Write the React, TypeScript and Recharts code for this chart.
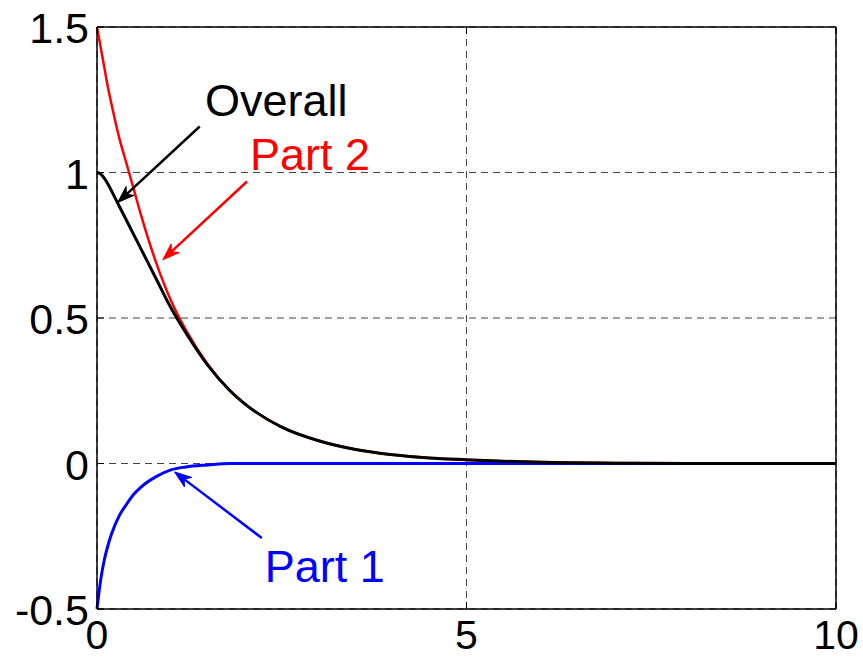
import {
  LineChart,
  Line,
  XAxis,
  YAxis,
  CartesianGrid,
  ReferenceLine,
  ReferenceDot,
} from "recharts";

// values
const xValues = [0, 0.05, 0.1, 0.15, 0.2, 0.3, 0.4, 0.5, 0.6, 0.8, 1.0, 1.2, 1.5, 1.8, 2.0, 2.5, 3.0, 3.5, 4.0, 4.5, 5.0, 5.5, 6.0, 7.0, 8.0, 9.0, 10.0];
const part1 = [-0.5, -0.4, -0.33, -0.28, -0.24, -0.18, -0.14, -0.105, -0.08, -0.045, -0.022, -0.012, -0.005, 0, 0, 0, 0, 0, 0, 0, 0, 0, 0, 0, 0, 0, 0];
const part2 = [1.5, 1.43, 1.36, 1.29, 1.23, 1.12, 1.03, 0.94, 0.85, 0.69, 0.56, 0.46, 0.34, 0.25, 0.205, 0.125, 0.078, 0.048, 0.03, 0.019, 0.012, 0.008, 0.005, 0.002, 0.001, 0, 0];
const overall = [1.0, 0.995, 0.98, 0.96, 0.935, 0.885, 0.835, 0.785, 0.735, 0.635, 0.535, 0.45, 0.337, 0.25, 0.205, 0.125, 0.078, 0.048, 0.03, 0.019, 0.013, 0.008, 0.004, 0.001, 0, 0, 0];

const xTicks = [0, 5, 10];
const yTicks = [-0.5, 0, 0.5, 1, 1.5];

const data = xValues.map((x, i) => ({
  x,
  part1: part1[i],
  part2: part2[i],
  overall: overall[i],
}));

// annotation arrows (data units): tail -> head
const arrows = [
  { from: { x: 1.39, y: 1.158 }, to: { x: 0.28, y: 0.897 }, color: "#000000" },
  { from: { x: 2.03, y: 0.969 }, to: { x: 0.89, y: 0.7 }, color: "#ff0000" },
  { from: { x: 2.23, y: -0.256 }, to: { x: 1.05, y: -0.029 }, color: "#0000ff" },
];

const labels = [
  { text: "Overall", x: 1.46, y: 1.193, color: "#000000" },
  { text: "Part 2", x: 2.07, y: 1.01, color: "#ff0000" },
  { text: "Part 1", x: 2.27, y: -0.408, color: "#0000ff" },
];

const FONT = "'Liberation Sans', Arial, Helvetica, sans-serif";

const Arrow = (color: string) => (props: any) => {
  const { x1, y1, x2, y2 } = props;
  const ang = Math.atan2(y2 - y1, x2 - x1);
  const len = 17;
  const half = 6;
  const bx = x2 - len * Math.cos(ang);
  const by = y2 - len * Math.sin(ang);
  const nx = -Math.sin(ang);
  const ny = Math.cos(ang);
  const notchX = x2 - len * 0.7 * Math.cos(ang);
  const notchY = y2 - len * 0.7 * Math.sin(ang);
  return (
    <g>
      <line x1={x1} y1={y1} x2={notchX} y2={notchY} stroke={color} strokeWidth={2.5} />
      <path
        d={`M${x2},${y2} L${bx + nx * half},${by + ny * half} L${notchX},${notchY} L${bx - nx * half},${by - ny * half} Z`}
        fill={color}
        stroke={color}
        strokeWidth={1}
      />
    </g>
  );
};

// ticks point inward, like the matlab box
const BottomTick = (props: any) => {
  const { x, y, payload } = props;
  return (
    <g>
      <line x1={x} x2={x} y1={y} y2={y - 7} stroke="#000" strokeWidth={1} />
      <text x={x} y={y + 40} textAnchor="middle" fontSize={41} fontFamily={FONT} fill="#000">
        {payload.value}
      </text>
    </g>
  );
};

const LeftTick = (props: any) => {
  const { x, y, payload } = props;
  return (
    <g>
      <line x1={x} x2={x + 7} y1={y} y2={y} stroke="#000" strokeWidth={1} />
      <text x={x - 8} y={y + 16} textAnchor="end" fontSize={43} fontFamily={FONT} fill="#000">
        {payload.value}
      </text>
    </g>
  );
};

const TopTick = (props: any) => {
  const { x, y } = props;
  return <line x1={x} x2={x} y1={y} y2={y + 7} stroke="#000" strokeWidth={1} />;
};

const RightTick = (props: any) => {
  const { x, y } = props;
  return <line x1={x} x2={x - 7} y1={y} y2={y} stroke="#000" strokeWidth={1} />;
};

export default function App() {
  return (
    <div style={{ position: "absolute", left: 0, top: 0, background: "#fff" }}>
      <LineChart
        width={863}
        height={658}
        data={data}
        margin={{ top: 17, right: 17, bottom: 9, left: 37 }}
      >
        <CartesianGrid stroke="#444" strokeDasharray="7 5" strokeWidth={1} />
        <XAxis
          dataKey="x"
          type="number"
          domain={[0, 10]}
          ticks={xTicks}
          height={40}
          tickLine={false}
          tickSize={0}
          tickMargin={0}
          tick={<BottomTick />}
          axisLine={{ stroke: "#000", strokeWidth: 1.5 }}
          interval={0}
        />
        <XAxis
          xAxisId="top"
          orientation="top"
          dataKey="x"
          type="number"
          domain={[0, 10]}
          ticks={xTicks}
          height={10}
          tickLine={false}
          tickSize={0}
          tickMargin={0}
          tick={<TopTick />}
          axisLine={{ stroke: "#000", strokeWidth: 1.5 }}
          interval={0}
        />
        <YAxis
          type="number"
          domain={[-0.5, 1.5]}
          ticks={yTicks}
          width={60}
          tickLine={false}
          tickSize={0}
          tickMargin={0}
          tick={<LeftTick />}
          axisLine={{ stroke: "#000", strokeWidth: 1.5 }}
          interval={0}
        />
        <YAxis
          yAxisId="right"
          orientation="right"
          type="number"
          domain={[-0.5, 1.5]}
          ticks={yTicks}
          width={10}
          tickLine={false}
          tickSize={0}
          tickMargin={0}
          tick={<RightTick />}
          axisLine={{ stroke: "#000", strokeWidth: 1.5 }}
          interval={0}
        />
        <Line
          type="monotone"
          dataKey="part2"
          stroke="#ff0000"
          strokeWidth={2.5}
          dot={false}
          isAnimationActive={false}
        />
        <Line
          type="monotone"
          dataKey="part1"
          stroke="#0000ff"
          strokeWidth={3}
          dot={false}
          isAnimationActive={false}
        />
        <Line
          type="monotone"
          dataKey="overall"
          stroke="#000000"
          strokeWidth={3}
          dot={false}
          isAnimationActive={false}
        />
        {arrows.map((a, i) => (
          <ReferenceLine
            key={`arrow-${i}`}
            segment={[a.from, a.to]}
            shape={Arrow(a.color)}
            ifOverflow="visible"
          />
        ))}
        {labels.map((l) => (
          <ReferenceDot
            key={l.text}
            x={l.x}
            y={l.y}
            r={0}
            ifOverflow="visible"
            shape={(p: any) => (
              <text x={p.cx} y={p.cy} fontSize={45} fontFamily={FONT} fill={l.color}>
                {l.text}
              </text>
            )}
          />
        ))}
      </LineChart>
    </div>
  );
}
